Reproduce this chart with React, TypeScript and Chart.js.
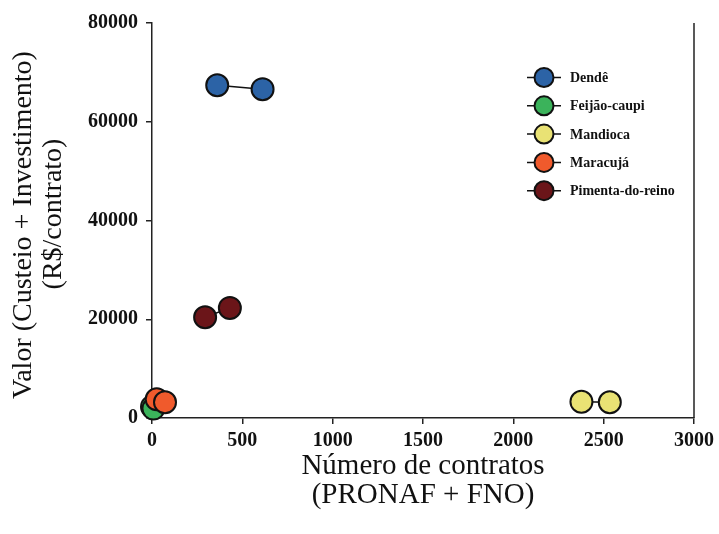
import React, { useEffect, useRef } from "react";
import { Chart, registerables } from "chart.js";

Chart.register(...registerables);

const seriesNames = ["Dendê", "Feijão-caupi", "Mandioca", "Maracujá", "Pimenta-do-reino"];
const seriesColors = ["#2c63a6", "#3bb35b", "#e9e274", "#f05a2c", "#6b1519"];
const dendeX = [361, 612];
const dendeY = [67400, 66600];
const feijaoX = [0, 8];
const feijaoY = [2300, 1900];
const mandiocaX = [2377, 2534];
const mandiocaY = [3300, 3200];
const maracujaX = [26, 72];
const maracujaY = [3800, 3200];
const pimentaX = [294, 431];
const pimentaY = [20400, 22300];
const xTicks = [0, 500, 1000, 1500, 2000, 2500, 3000];
const yTicks = [0, 20000, 40000, 60000, 80000];
const xTitle = ["Número de contratos", "(PRONAF + FNO)"];
const yTitle = ["Valor (Custeio + Investimento)", "(R$/contrato)"];

const allX = [dendeX, feijaoX, mandiocaX, maracujaX, pimentaX];
const allY = [dendeY, feijaoY, mandiocaY, maracujaY, pimentaY];

const SERIF = "'Liberation Serif', 'Times New Roman', serif";

const decorPlugin = {
  id: "decor",
  afterDraw(chart: any) {
    const { ctx, chartArea } = chart;
    ctx.save();
    // right border line
    ctx.strokeStyle = "#222";
    ctx.lineWidth = 1.5;
    ctx.beginPath();
    ctx.moveTo(chartArea.right, chartArea.top);
    ctx.lineTo(chartArea.right, chartArea.bottom);
    ctx.stroke();

    // x title
    ctx.fillStyle = "#111";
    ctx.font = `29px ${SERIF}`;
    ctx.textAlign = "center";
    ctx.textBaseline = "middle";
    const cx = (chartArea.left + chartArea.right) / 2;
    ctx.fillText(xTitle[0], cx, 466);
    ctx.fillText(xTitle[1], cx, 495);

    // y title
    ctx.font = `28px ${SERIF}`;
    ctx.save();
    ctx.translate(24, 225);
    ctx.rotate(-Math.PI / 2);
    ctx.fillText(yTitle[0], 0, 0);
    ctx.restore();
    ctx.save();
    ctx.translate(54, 214);
    ctx.rotate(-Math.PI / 2);
    ctx.fillText(yTitle[1], 0, 0);
    ctx.restore();

    // legend
    ctx.font = `bold 14px ${SERIF}`;
    ctx.textAlign = "left";
    const lx = 544;
    const ly0 = 77.5;
    const step = 28.3;
    seriesNames.forEach((name, i) => {
      const y = ly0 + i * step;
      ctx.strokeStyle = "#111";
      ctx.lineWidth = 1.5;
      ctx.beginPath();
      ctx.moveTo(lx - 17, y);
      ctx.lineTo(lx + 17, y);
      ctx.stroke();
      ctx.beginPath();
      ctx.arc(lx, y, 9.5, 0, Math.PI * 2);
      ctx.fillStyle = seriesColors[i];
      ctx.fill();
      ctx.lineWidth = 2;
      ctx.stroke();
      ctx.fillStyle = "#111";
      ctx.fillText(name, 570, y + 1);
    });
    ctx.restore();
  },
};

export default function App() {
  const ref = useRef<HTMLCanvasElement>(null);
  useEffect(() => {
    if (!ref.current) return;
    const datasets = seriesNames.map((name, i) => ({
      label: name,
      data: allX[i].map((x, j) => ({ x, y: allY[i][j] })),
      showLine: true,
      order: seriesNames.length - i,
      borderColor: "#111",
      borderWidth: 1.5,
      pointBackgroundColor: seriesColors[i],
      pointBorderColor: "#111",
      pointBorderWidth: 2,
      pointRadius: 11,
      pointHoverRadius: 11,
      clip: false as any,
    }));
    const chart = new Chart(ref.current, {
      type: "scatter",
      data: { datasets },
      options: {
        animation: false,
        responsive: false,
        layout: { padding: { left: 0, top: 23, right: 24, bottom: 0 } },
        plugins: { legend: { display: false }, tooltip: { enabled: false } },
        scales: {
          x: {
            type: "linear",
            min: 0,
            max: 3000,
            afterBuildTicks: (s: any) => {
              s.ticks = xTicks.map((v) => ({ value: v }));
            },
            afterFit: (s: any) => {
              s.height = 116;
            },
            grid: { drawOnChartArea: false, tickLength: 6, color: "#222", lineWidth: 1.5 },
            border: { display: true, color: "#222", width: 1.5 },
            ticks: {
              color: "#111",
              font: { family: SERIF, size: 20, weight: "bold" },
              padding: 5,
              maxRotation: 0,
              callback: (v: any) => String(v),
            },
          },
          y: {
            type: "linear",
            min: 0,
            max: 80000,
            afterBuildTicks: (s: any) => {
              s.ticks = yTicks.map((v) => ({ value: v }));
            },
            afterFit: (s: any) => {
              s.width = 152;
            },
            grid: { drawOnChartArea: false, tickLength: 6, color: "#222", lineWidth: 1.5 },
            border: { display: true, color: "#222", width: 1.5 },
            ticks: {
              color: "#111",
              font: { family: SERIF, size: 20, weight: "bold" },
              padding: 8,
              callback: (v: any) => String(v),
            },
          },
        },
      },
      plugins: [decorPlugin],
    });
    return () => chart.destroy();
  }, []);
  return (
    <div style={{ position: "absolute", left: 0, top: 0, width: 719, height: 534, background: "#fff" }}>
      <canvas ref={ref} width={719} height={534} />
    </div>
  );
}
